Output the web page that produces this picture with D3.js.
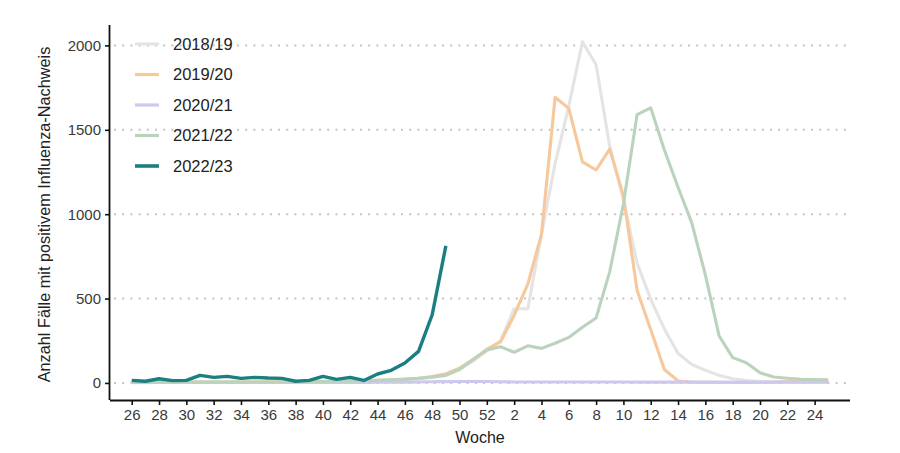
<!DOCTYPE html>
<html><head><meta charset="utf-8">
<script src="https://cdn.jsdelivr.net/npm/d3@7"></script>
<style>
html,body{margin:0;padding:0;background:#fff;}
svg{display:block;font-family:"Liberation Sans",Arial,sans-serif;}
</style></head>
<body><svg id="chart" width="900" height="453"></svg>
<script>
// Weeks of the season (week 26 to week 25 of the following year)
const weeks = [26,27,28,29,30,31,32,33,34,35,36,37,38,39,40,41,42,43,44,45,46,47,48,49,50,51,52,
               1,2,3,4,5,6,7,8,9,10,11,12,13,14,15,16,17,18,19,20,21,22,23,24,25];
const seasons = ["2018/19","2019/20","2020/21","2021/22","2022/23"];
const colors = ["#e4e4e4","#f6c89c","#cdc9ee","#bbd3bd","#1a7f80"];

const s2018 = [2,2,3,3,4,4,5,5,5,6,6,6,7,8,8,9,10,11,13,15,18,24,32,50,80,130,190,
               250,440,440,880,1300,1640,2021,1885,1400,1085,710,495,320,175,110,75,45,25,14,8,6,5,4,4,3];
const s2019 = [3,3,4,4,5,5,5,6,6,7,7,8,8,9,10,11,12,14,16,19,23,28,38,55,88,138,200,
               243,400,585,880,1693,1627,1310,1262,1385,1110,550,315,80,12,5,4,3,3,3,3,4,8,9,9,8];
const s2020 = [3,3,3,3,3,3,3,3,3,3,3,3,3,3,3,3,3,3,4,4,4,6,7,8,9,9,9,
               7,6,6,6,6,6,6,6,6,6,5,5,5,5,5,5,5,5,5,5,5,5,5,5,5];
const s2021 = [3,3,4,4,4,5,5,5,6,6,6,7,7,8,9,10,11,13,15,18,22,28,35,45,80,140,195,
               215,182,220,205,235,270,330,385,660,1060,1590,1630,1380,1160,950,640,280,150,120,60,35,28,22,20,18];
const s2022 = [15,10,25,14,15,45,33,39,27,33,29,27,10,15,39,21,33,15,53,75,118,187,404,812];

const seriesValues = [s2018,s2019,s2020,s2021,s2022];
const yTicks = [0,500,1000,1500,2000];
const xTickLabels = [26,28,30,32,34,36,38,40,42,44,46,48,50,52,2,4,6,8,10,12,14,16,18,20,22,24];

const svg = d3.select("#chart");
const L = 110, R = 850, T = 25, B = 400;

const x = d3.scaleLinear().domain([-1.59, 52.59]).range([L, R]);
const y = d3.scaleLinear().domain([-101, 2121]).range([B, T]);

// gridlines
svg.append("g").selectAll("line").data(yTicks).join("line")
  .attr("x1", L + 4).attr("x2", R)
  .attr("y1", d => y(d)).attr("y2", d => y(d))
  .attr("stroke", "#c4c4c4").attr("stroke-width", 2)
  .attr("stroke-dasharray", "2,6.2");

// lines
const line = d3.line().x((d,i) => x(i)).y(d => y(d));
seasons.forEach((s, k) => {
  svg.append("path").datum(seriesValues[k])
    .attr("fill", "none")
    .attr("stroke", colors[k])
    .attr("stroke-width", k === 4 ? 3.4 : 3.1)
    .attr("stroke-linejoin", "round")
    .attr("stroke-linecap", "butt")
    .attr("d", line);
});

// axes
const xTickIdx = xTickLabels.map(w => weeks.indexOf(w));
const xAxis = d3.axisBottom(x).tickValues(xTickIdx)
  .tickFormat(i => weeks[i]).tickSize(5).tickSizeOuter(0).tickPadding(4);
const gx = svg.append("g").attr("transform", `translate(0,${B})`).call(xAxis);
gx.select(".domain").attr("d", `M${L},0.5H${R}`).attr("stroke", "#111").attr("stroke-width", 1.8);
gx.selectAll(".tick line").attr("stroke", "#111").attr("stroke-width", 1.6);
gx.selectAll(".tick text").attr("font-size", 15).attr("fill", "#3a3a3a")
  .attr("font-family", "'Liberation Sans',Arial,sans-serif");

const yAxis = d3.axisLeft(y).tickValues(yTicks).tickFormat(d3.format("d"))
  .tickSize(5).tickSizeOuter(0).tickPadding(4);
const gy = svg.append("g").attr("transform", `translate(${L},0)`).call(yAxis);
gy.select(".domain").attr("d", `M-0.5,${T}V${B}`).attr("stroke", "#111").attr("stroke-width", 1.8);
gy.selectAll(".tick line").attr("stroke", "#111").attr("stroke-width", 1.6);
gy.selectAll(".tick text").attr("font-size", 15).attr("fill", "#3a3a3a")
  .attr("font-family", "'Liberation Sans',Arial,sans-serif");

// axis titles
svg.append("text").attr("x", (L + R) / 2).attr("y", 443)
  .attr("text-anchor", "middle").attr("font-size", 16).attr("fill", "#222").text("Woche");
svg.append("text").attr("transform", `translate(50,${(T + B) / 2 + 2}) rotate(-90)`)
  .attr("text-anchor", "middle").attr("font-size", 16.3).attr("fill", "#222")
  .text("Anzahl Fälle mit positivem Influenza-Nachweis");

// legend
const lg = svg.append("g");
seasons.forEach((s, k) => {
  const yy = 44 + k * 30.5;
  lg.append("line").attr("x1", 135).attr("x2", 159).attr("y1", yy).attr("y2", yy)
    .attr("stroke", colors[k]).attr("stroke-width", k === 4 ? 3.6 : 3.2);
  lg.append("text").attr("x", 173).attr("y", yy).attr("dy", "0.36em")
    .attr("font-size", 16.5).attr("fill", "#222").text(s);
});
</script></body></html>
